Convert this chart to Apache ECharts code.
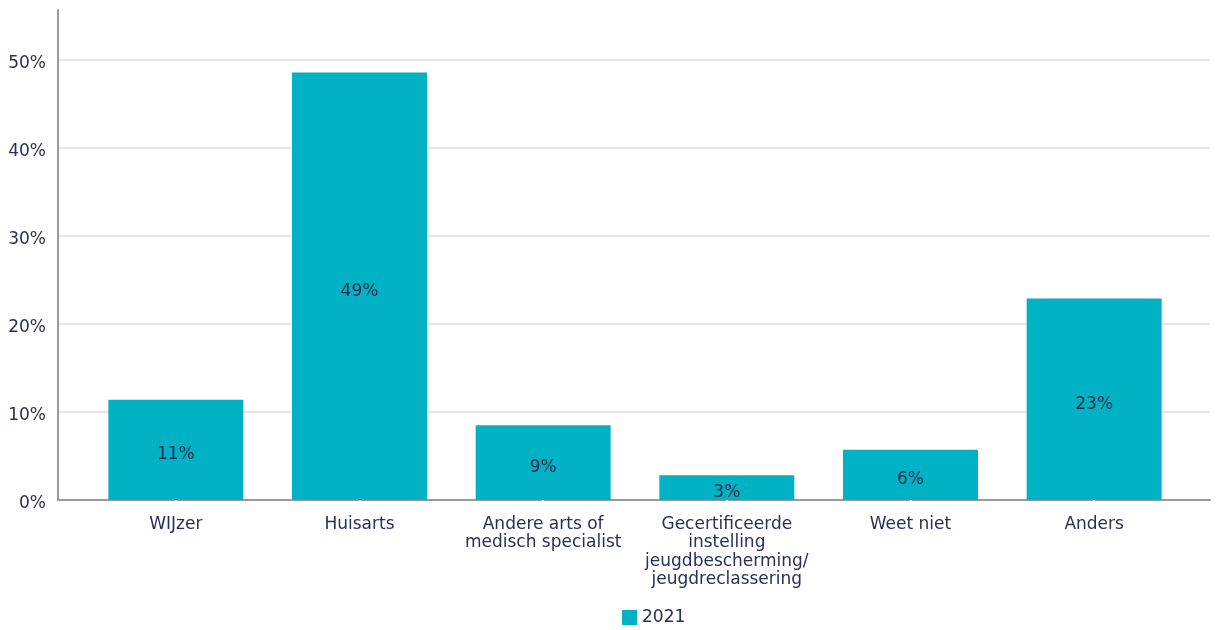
<!DOCTYPE html>
<html><head><meta charset="utf-8">
<script src="https://cdn.jsdelivr.net/npm/echarts@6/dist/echarts.min.js"></script>
<style>html,body{margin:0;padding:0;background:#fff}#c{width:1217px;height:630px}</style>
</head><body><div id="c"></div>
<script>
const categories = ['WIJzer', 'Huisarts', 'Andere arts of\nmedisch specialist', 'Gecertificeerde\ninstelling\njeugdbescherming/\njeugdreclassering', 'Weet niet', 'Anders'];
const values2021 = [11.4, 48.6, 8.5, 2.8, 5.7, 22.9];
const seriesName = '2021';

const FONT = '"DejaVu Sans", Verdana, sans-serif';
const TXT = '#283058';
const FS = 17;
const chart = echarts.init(document.getElementById('c'));
chart.setOption({
  animation: false,
  textStyle: { fontFamily: FONT },
  grid: [
    { left: 58, right: 7, top: 60, bottom: 130 },
    { left: 84, right: 31, top: 10, bottom: 130 }
  ],
  legend: {
    data: [seriesName], top: 609, left: 622, padding: 0, itemWidth: 15, itemHeight: 15, itemGap: 6, icon: 'rect',
    textStyle: { color: TXT, fontSize: FS, fontFamily: FONT }
  },
  xAxis: [
    { gridIndex: 0, type: 'value', min: 0, max: 1, axisLabel: { show: false }, splitLine: { show: false }, axisTick: { show: false },
      axisLine: { show: true, onZero: false, lineStyle: { color: '#9a9a9a', width: 2 } } },
    { gridIndex: 1, type: 'category', data: categories, boundaryGap: true,
      axisLine: { show: false }, axisTick: { show: true, alignWithLabel: true, length: 4, lineStyle: { color: '#ffffff', width: 2 } },
      axisLabel: { color: TXT, fontSize: FS, fontFamily: FONT, margin: 15, lineHeight: 18.5, interval: 0 } }
  ],
  yAxis: [
    { gridIndex: 0, type: 'value', min: 0, max: 50, interval: 10,
      axisLine: { show: false }, axisTick: { show: false },
      splitLine: { show: true, lineStyle: { color: '#e6e6e6', width: 2 } },
      axisLabel: { margin: 12, formatter: v => '{a|' + v + '%}',
        rich: { a: { color: TXT, fontSize: FS, fontFamily: FONT, padding: [7, 0, 0, 0] } } } },
    { gridIndex: 1, type: 'value', min: 0, max: 55.7, interval: 10, offset: 26,
      axisLine: { show: true, lineStyle: { color: '#9a9a9a', width: 2 } },
      axisTick: { show: false }, axisLabel: { show: false }, splitLine: { show: false } }
  ],
  series: [{
    name: seriesName, type: 'bar', xAxisIndex: 1, yAxisIndex: 1, data: values2021,
    barCategoryGap: '26.5%', itemStyle: { color: '#00b2c4' },
    label: { show: true, position: 'inside', offset: [0, 5], color: '#1f2a50', fontSize: FS, fontFamily: FONT,
      formatter: p => Math.round(p.value) + '%' }
  }]
});
</script></body></html>
